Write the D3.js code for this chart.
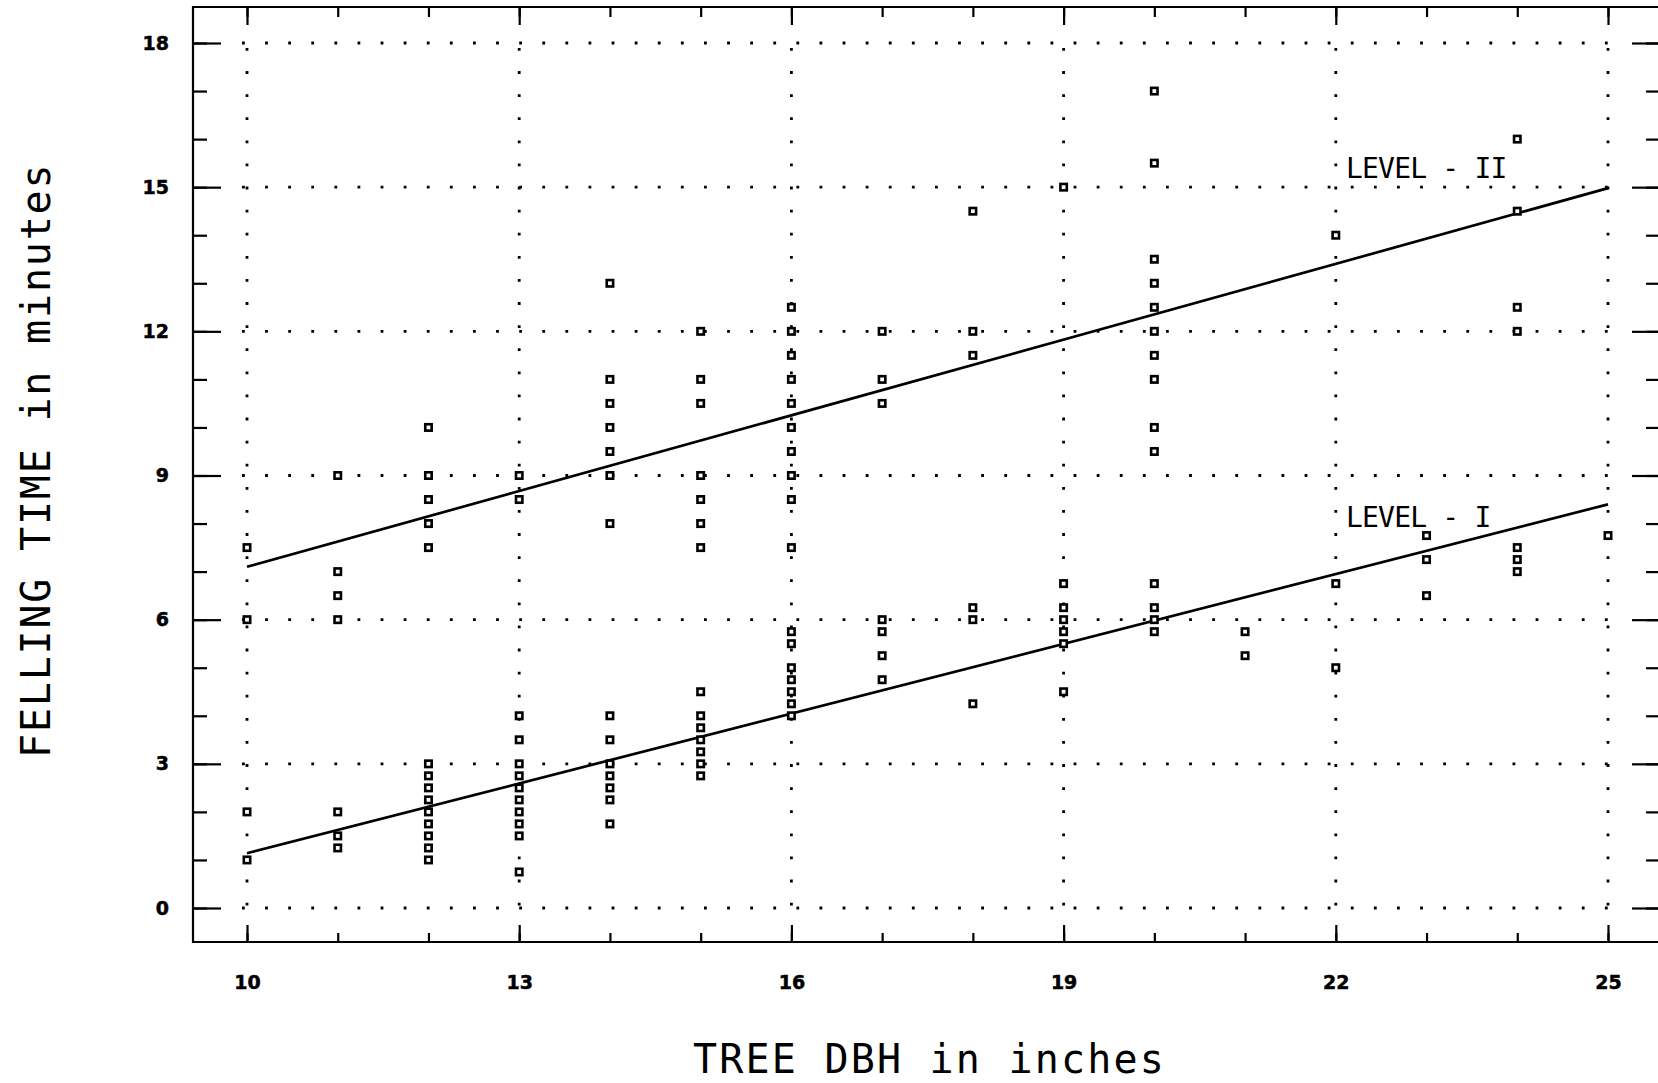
<!DOCTYPE html>
<html>
<head>
<meta charset="utf-8">
<script src="https://cdn.jsdelivr.net/npm/d3@7"></script>
<style>
  body { margin: 0; background: #fff; }
  svg { display: block; }
</style>
</head>
<body>
<div id="vis"></div>
<script>
// Frame size
const FRAME_WIDTH = 1658;
const FRAME_HEIGHT = 1083;

// Plot box edges (right edge sits just past the picture, like the scan)
const BOX = {left: 193, top: 7, right: 1660, bottom: 942};

// Tick values and labels
const X_TICKS = [10, 13, 16, 19, 22, 25];
const X_MINOR = d3.range(10, 26);
const Y_TICKS = [0, 3, 6, 9, 12, 15, 18];
const Y_MINOR = d3.range(0, 19);

// Tree DBH columns and the felling times seen in each one
const DBH = [10, 11, 12, 13, 14, 15, 16, 17, 18, 19, 20, 21, 22, 23, 24, 25];
const TIMES = [
  [7.5, 6, 2, 1],
  [9, 7, 6.5, 6, 2, 1.5, 1.25],
  [10, 9, 8.5, 8, 7.5, 3, 2.75, 2.5, 2.25, 2, 1.75, 1.5, 1.25, 1],
  [9, 8.5, 4, 3.5, 3, 2.75, 2.5, 2.25, 2, 1.75, 1.5, 0.75],
  [13, 11, 10.5, 10, 9.5, 9, 8, 4, 3.5, 3, 2.75, 2.5, 2.25, 1.75],
  [12, 11, 10.5, 9, 8.5, 8, 7.5, 4.5, 4, 3.75, 3.5, 3.25, 3, 2.75],
  [12.5, 12, 11.5, 11, 10.5, 10, 9.5, 9, 8.5, 7.5, 5.75, 5.5, 5, 4.75, 4.5, 4.25, 4],
  [12, 11, 10.5, 6, 5.75, 5.25, 4.75],
  [14.5, 12, 11.5, 6.25, 6, 4.25],
  [15, 6.75, 6.25, 6, 5.75, 5.5, 4.5],
  [17, 15.5, 13.5, 13, 12.5, 12, 11.5, 11, 10, 9.5, 6.75, 6.25, 6, 5.75],
  [5.75, 5.25],
  [14, 6.75, 5],
  [7.75, 7.25, 6.5],
  [16, 14.5, 12.5, 12, 7.5, 7.25, 7],
  [7.75]
];

// Fitted lines, given at DBH 10 and 25
const LINE_X = [10, 25];
const LEVEL_I = [1.14, 8.4];
const LEVEL_II = [7.1, 14.98];

const MONO = "'DejaVu Sans Mono', 'Liberation Mono', monospace";
const DIGITS = "'DejaVu Sans', Verdana, sans-serif";

const FRAME = d3.select("#vis")
  .append("svg")
    .attr("width", FRAME_WIDTH)
    .attr("height", FRAME_HEIGHT);

FRAME.append("rect")
  .attr("width", FRAME_WIDTH)
  .attr("height", FRAME_HEIGHT)
  .attr("fill", "#fff");

// Scales
const X_SCALE = d3.scaleLinear().domain([10, 25]).range([247, 1608]);
const Y_SCALE = d3.scaleLinear().domain([0, 18]).range([908, 43]);

// Dotted grid lines
const grid = FRAME.append("g")
  .attr("stroke", "#000")
  .attr("stroke-width", 2.8)
  .attr("stroke-dasharray", "2.8 20.3");

grid.selectAll(".hgrid")
  .data(Y_TICKS)
  .enter()
  .append("line")
    .attr("x1", X_SCALE(10) - 5)
    .attr("x2", X_SCALE(25) + 4)
    .attr("y1", (d) => Y_SCALE(d))
    .attr("y2", (d) => Y_SCALE(d));

grid.selectAll(".vgrid")
  .data(X_TICKS)
  .enter()
  .append("line")
    .attr("x1", (d) => X_SCALE(d))
    .attr("x2", (d) => X_SCALE(d))
    .attr("y1", Y_SCALE(18) + 5)
    .attr("y2", Y_SCALE(0));

// Frame of the plot box
FRAME.append("path")
  .attr("d", "M" + BOX.right + "," + BOX.top + "H" + BOX.left + "V" + BOX.bottom + "H" + BOX.right)
  .attr("fill", "none")
  .attr("stroke", "#000")
  .attr("stroke-width", 2.2);

// Inward tick marks on all four sides (minor then major)
function ticks(axis, transform) {
  FRAME.append("g")
    .attr("transform", transform)
    .call(axis.tickFormat(""))
    .call((g) => g.select(".domain").remove())
    .selectAll("line")
      .attr("stroke-width", 2.2);
}

ticks(d3.axisRight(Y_SCALE).tickValues(Y_MINOR).tickSize(14), "translate(" + BOX.left + ",0)");
ticks(d3.axisRight(Y_SCALE).tickValues(Y_TICKS).tickSize(28), "translate(" + BOX.left + ",0)");
ticks(d3.axisLeft(Y_SCALE).tickValues(Y_MINOR).tickSize(14), "translate(" + BOX.right + ",0)");
ticks(d3.axisLeft(Y_SCALE).tickValues(Y_TICKS).tickSize(28), "translate(" + BOX.right + ",0)");
ticks(d3.axisBottom(X_SCALE).tickValues(X_MINOR).tickSize(10), "translate(0," + BOX.top + ")");
ticks(d3.axisBottom(X_SCALE).tickValues(X_TICKS).tickSize(18), "translate(0," + BOX.top + ")");
ticks(d3.axisTop(X_SCALE).tickValues(X_MINOR).tickSize(9), "translate(0," + BOX.bottom + ")");
ticks(d3.axisTop(X_SCALE).tickValues(X_TICKS).tickSize(17), "translate(0," + BOX.bottom + ")");

// Tick labels
FRAME.append("g")
  .attr("transform", "translate(0," + BOX.bottom + ")")
  .call(d3.axisBottom(X_SCALE).tickValues(X_TICKS).tickSize(0).tickPadding(34))
  .call((g) => g.select(".domain").remove())
  .selectAll("text")
    .attr("font-family", DIGITS)
    .attr("font-weight", "bold")
    .attr("font-size", 19)
    .attr("stroke", "#000")
    .attr("stroke-width", 0.5)
    .attr("fill", "#000");

FRAME.append("g")
  .attr("transform", "translate(" + BOX.left + ",0)")
  .call(d3.axisLeft(Y_SCALE).tickValues(Y_TICKS).tickSize(0).tickPadding(24))
  .call((g) => g.select(".domain").remove())
  .selectAll("text")
    .attr("font-family", DIGITS)
    .attr("font-weight", "bold")
    .attr("font-size", 19)
    .attr("stroke", "#000")
    .attr("stroke-width", 0.5)
    .attr("fill", "#000");

// Fitted lines
const line = d3.line()
  .x((d, i) => X_SCALE(LINE_X[i]))
  .y((d) => Y_SCALE(d));

[LEVEL_I, LEVEL_II].forEach((ends) => {
  FRAME.append("path")
    .attr("d", line(ends))
    .attr("fill", "none")
    .attr("stroke", "#000")
    .attr("stroke-width", 2.7);
});

// Observations as small hollow squares
const points = [];
DBH.forEach((x, i) => {
  TIMES[i].forEach((t) => points.push({x: x, t: t}));
});

FRAME.append("g")
  .selectAll("rect")
  .data(points)
  .enter()
  .append("rect")
    .attr("x", (d) => X_SCALE(d.x) - 3.2)
    .attr("y", (d) => Y_SCALE(d.t) - 3.2)
    .attr("width", 6.4)
    .attr("height", 6.4)
    .attr("fill", "#fff")
    .attr("stroke", "#000")
    .attr("stroke-width", 2.6);

// Line labels
FRAME.append("text")
  .attr("x", 1346)
  .attr("y", 178)
  .attr("font-family", MONO)
  .attr("font-size", 28)
  .attr("letter-spacing", -0.8)
  .text("LEVEL - II");

FRAME.append("text")
  .attr("x", 1346)
  .attr("y", 527)
  .attr("font-family", MONO)
  .attr("font-size", 28)
  .attr("letter-spacing", -0.8)
  .text("LEVEL - I");

// Axis titles
FRAME.append("text")
  .attr("x", 693)
  .attr("y", 1073)
  .attr("font-family", MONO)
  .attr("font-size", 40)
  .attr("letter-spacing", 2.2)
  .text("TREE DBH in inches");

FRAME.append("text")
  .attr("transform", "translate(50,758) rotate(-90)")
  .attr("font-family", MONO)
  .attr("font-size", 40)
  .attr("letter-spacing", 1.8)
  .text("FELLING TIME in minutes");
</script>
</body>
</html>
